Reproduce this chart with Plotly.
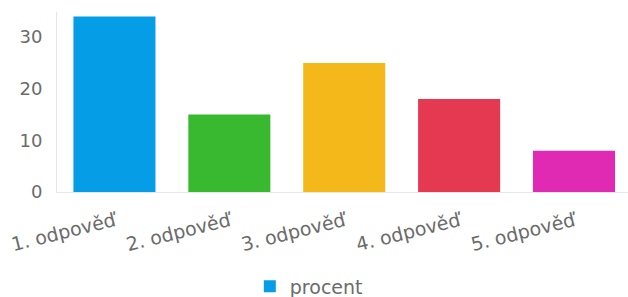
import plotly.graph_objects as go

categories = ["1. odpověď", "2. odpověď", "3. odpověď", "4. odpověď", "5. odpověď"]
values = [34, 15, 25, 18, 8]
colors = ["#059de6", "#38b92f", "#f4b81b", "#e43950", "#e02ab4"]
series_name = "procent"

fig = go.Figure()
fig.add_trace(go.Bar(
    x=categories, y=values, name=series_name,
    marker=dict(color=colors, line=dict(width=0)),
    showlegend=True,
))

fig.update_layout(
    width=628, height=297,
    margin=dict(l=57, r=0, t=12, b=105, autoexpand=False),
    paper_bgcolor="white", plot_bgcolor="white",
    bargap=0.286,
    font=dict(family="DejaVu Sans", color="#666666", size=18),
    xaxis=dict(showline=True, linecolor="#e6e6e6", linewidth=1, showgrid=False,
               range=[-0.5, 4.47],
               automargin=False, tickangle=-14, ticks="", ticklabelstandoff=10,
               tickfont=dict(size=19, color="#6b6b6b")),
    yaxis=dict(range=[0, 34.85], showline=True, linecolor="#e6e6e6", linewidth=1,
               showgrid=False, zeroline=False, tickvals=[0, 10, 20, 30], ticks="",
               automargin=False, ticklabelstandoff=10,
               tickfont=dict(size=18, color="#6b6b6b")),
    legend=dict(orientation="h", x=0.441, xanchor="center", y=-0.525, yanchor="middle",
                font=dict(size=19, color="#6b6b6b")),
)

fig.write_html("out.html", config={"displayModeBar": False},
               post_script="document.body.style.margin='0';")
